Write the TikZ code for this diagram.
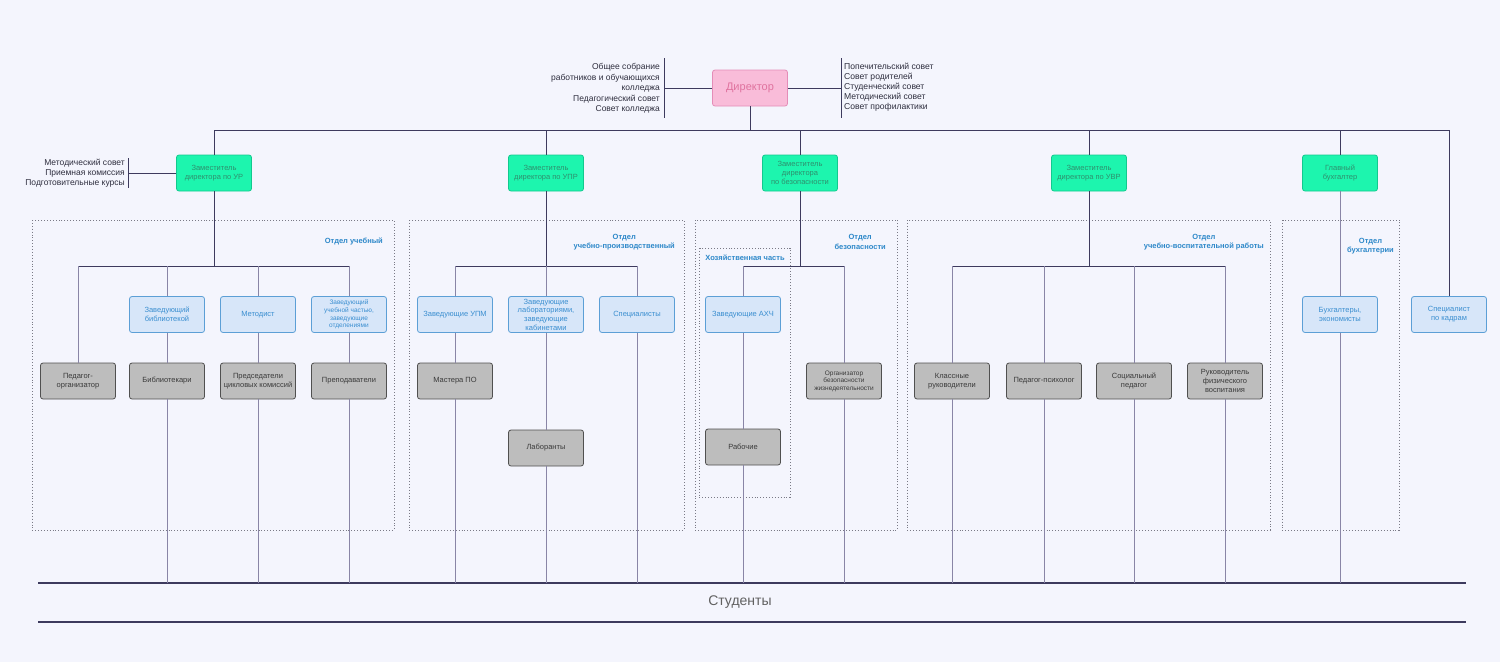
\documentclass[tikz,border=0pt]{standalone}
\usepackage{fontspec}
\setmainfont{Liberation Sans}
\usetikzlibrary{positioning}

\definecolor{bgcol}{HTML}{F4F5FD}
\definecolor{pinkfill}{HTML}{F9BCD9}
\definecolor{pinkline}{HTML}{E48DB8}
\definecolor{pinktext}{HTML}{E0739F}
\definecolor{greenfill}{HTML}{1DF5AE}
\definecolor{greenline}{HTML}{12C98E}
\definecolor{greentext}{HTML}{2F8F6E}
\definecolor{bluefill}{HTML}{D7E6F9}
\definecolor{blueline}{HTML}{5C9FD6}
\definecolor{bluetext}{HTML}{3A8ED0}
\definecolor{grayfill}{HTML}{BDBDBD}
\definecolor{grayline}{HTML}{505050}
\definecolor{graytext}{HTML}{3A3A3A}
\definecolor{labelcol}{HTML}{2D88C9}
\definecolor{linkdark}{HTML}{3D3A5E}
\definecolor{linklight}{HTML}{8985A6}
\definecolor{notecol}{HTML}{2E2E3E}
\definecolor{dotcol}{HTML}{7A7A86}

\tikzset{
  box/.style={rounded corners=2.5pt, minimum width=75pt, minimum height=36pt,
    align=center, inner sep=1pt, line width=0.8pt, font=\fontsize{7.5}{9}\selectfont},
  chief/.style={box, fill=pinkfill, draw=pinkline, text=pinktext, font=\fontsize{11}{13}\selectfont},
  deputy/.style={box, fill=greenfill, draw=greenline, text=greentext},
  head/.style={box, fill=bluefill, draw=blueline, text=bluetext},
  staff/.style={box, fill=grayfill, draw=grayline, text=graytext},
  tiny/.style={font=\fontsize{6.5}{7.6}\selectfont},
  dept/.style={draw=dotcol, dash pattern=on 0.9pt off 2pt, line width=0.9pt},
  deptlabel/.style={text=labelcol, font=\bfseries\fontsize{7.5}{9.5}\selectfont, align=center, inner sep=0pt},
  link/.style={draw=linkdark, line width=1pt},
  sublink/.style={draw=linklight, line width=1pt},
  base/.style={draw=linkdark, line width=1.4pt},
  note/.style={font=\fontsize{8.5}{10.5}\selectfont, text=notecol, inner sep=0pt}
}

\begin{document}
\begin{tikzpicture}[x=1pt,y=-1pt]

\fill[bgcol] (0,0) rectangle (1500,662);
\useasboundingbox (0,0) rectangle (1500,662);

% director and councils
\node[chief] (dir) at (750,88) {Директор};
\node[note, align=right, anchor=east] (dirleft) at (660,88.5)
  {Общее собрание\\работников и обучающихся\\колледжа\\Педагогический совет\\Совет колледжа};
\node[note, align=left, anchor=west, font=\fontsize{8.6}{10}\selectfont] (dirright) at (844,87)
  {Попечительский совет\\Совет родителей\\Студенческий совет\\Методический совет\\Совет профилактики};
\coordinate (lbar) at (664,88);
\coordinate (rbar) at (841,88);
\draw[link] (lbar) ++(0,-30) -- ++(0,60);
\draw[link] (rbar) ++(0,-30) -- ++(0,60);
\draw[link] (dir.west) -- (lbar);
\draw[link] (dir.east) -- (rbar);

% deputies
\foreach \n/\x/\t in {ur/214/{Заместитель\\директора по УР},
                      upr/546/{Заместитель\\директора по УПР},
                      bez/800/{Заместитель\\директора\\по безопасности},
                      uvr/1089/{Заместитель\\директора по УВР},
                      buh/1340/{Главный\\бухгалтер}}
  \node[deputy] (\n) at (\x,173) {\t};

\node[head] (kadry) at (1449,314.5) {Специалист\\по кадрам};

\coordinate (bus) at (750,130);
\draw[link] (dir.south) -- (bus);
\draw[link] (ur.north |- bus) -- (kadry.north |- bus);
\foreach \n in {ur,upr,bez,uvr,buh}
  \draw[link] (\n.north |- bus) -- (\n.north);
\draw[link] (kadry.north |- bus) -- (kadry.north);

\node[note, align=right, anchor=east, font=\fontsize{8.5}{10}\selectfont] (urnote) at (125,173)
  {Методический совет\\Приемная комиссия\\Подготовительные курсы};
\coordinate (urbar) at (128,173);
\draw[link] (urbar) ++(0,-15) -- ++(0,30);
\draw[link] (ur.west) -- (urbar);

% departments
\foreach \xa/\xb in {32/394, 409/684, 695/897, 907/1270, 1282/1399}
  \draw[dept] (\xa,220) rectangle (\xb,530);
\draw[dept] (699,248) rectangle (790,497);

\node[deptlabel, anchor=east] (l1) at (383,241) {Отдел учебный};
\node[deptlabel, anchor=east] (l2) at (675,242) {Отдел\\учебно-производственный};
\node[deptlabel, anchor=east] (l3) at (886,242) {Отдел\\безопасности};
\node[deptlabel] (l3a) at (745,258) {Хозяйственная часть};
\node[deptlabel, anchor=east] (l4) at (1264,242) {Отдел\\учебно-воспитательной работы};
\node[deptlabel, anchor=east] (l5) at (1394,246) {Отдел\\бухгалтерии};

% educational department
\node[staff] (orgp) at (78,381) {Педагог-\\организатор};
\node[head] (zbib) at (167,314.5) {Заведующий\\библиотекой};
\node[staff] (bibl) at (167,381) {Библиотекари};
\node[head] (metod) at (258,314.5) {Методист};
\node[staff] (pck) at (258,381) {Председатели\\цикловых комиссий};
\node[head, tiny] (zuch) at (349,314.5) {Заведующий\\учебной частью,\\заведующие\\отделениями};
\node[staff] (prep) at (349,381) {Преподаватели};

% production department
\node[head] (zupm) at (455,314.5) {Заведующие УПМ};
\node[head, font=\fontsize{7.5}{8.7}\selectfont] (zlab) at (546,314.5) {Заведующие\\лабораториями,\\заведующие\\кабинетами};
\node[head] (spec) at (637,314.5) {Специалисты};
\node[staff] (master) at (455,381) {Мастера ПО};
\node[staff] (labor) at (546,448) {Лаборанты};

% safety department
\node[head] (zahch) at (743,314.5) {Заведующие АХЧ};
\node[staff] (rab) at (743,447) {Рабочие};
\node[staff, tiny] (obzh) at (844,381) {Организатор\\безопасности\\жизнедеятельности};

% upbringing department
\node[staff] (klass) at (952,381) {Классные\\руководители};
\node[staff] (psych) at (1044,381) {Педагог-психолог};
\node[staff] (socp) at (1134,381) {Социальный\\педагог};
\node[staff] (fizv) at (1225,381) {Руководитель\\физического\\воспитания};

% accounting
\node[head] (buhg) at (1340,314.5) {Бухгалтеры,\\экономисты};

% sub-buses
\coordinate (sub) at (0,266);
\draw[link] (ur.south) -- (ur.south |- sub);
\draw[link] (orgp.north |- sub) -- (prep.north |- sub);
\draw[link] (upr.south) -- (upr.south |- sub);
\draw[link] (zupm.north |- sub) -- (spec.north |- sub);
\draw[link] (bez.south) -- (bez.south |- sub);
\draw[link] (zahch.north |- sub) -- (obzh.north |- sub);
\draw[link] (uvr.south) -- (uvr.south |- sub);
\draw[link] (klass.north |- sub) -- (fizv.north |- sub);
\foreach \n in {orgp,zbib,metod,zuch,zupm,zlab,spec,zahch,obzh,klass,psych,socp,fizv}
  \draw[sublink] (\n.north |- sub) -- (\n.north);
\draw[sublink] (buh.south) -- (buhg.north);

\foreach \a/\b in {zbib/bibl, metod/pck, zuch/prep, zupm/master, zlab/labor, zahch/rab}
  \draw[sublink] (\a.south) -- (\b.north);

% students
\coordinate (studL) at (38,583);
\coordinate (studR) at (1466,583);
\draw[base] (studL) -- (studR);
\node[text=graytext!80, font=\fontsize{14}{16}\selectfont] (stud) at (740,602) {Студенты};
\draw[base] (38,622) -- (1466,622);

\foreach \n in {bibl,pck,prep,master,labor,spec,rab,obzh,klass,psych,socp,fizv,buhg}
  \draw[sublink] (\n.south) -- (\n.south |- studL);

\end{tikzpicture}
\end{document}
